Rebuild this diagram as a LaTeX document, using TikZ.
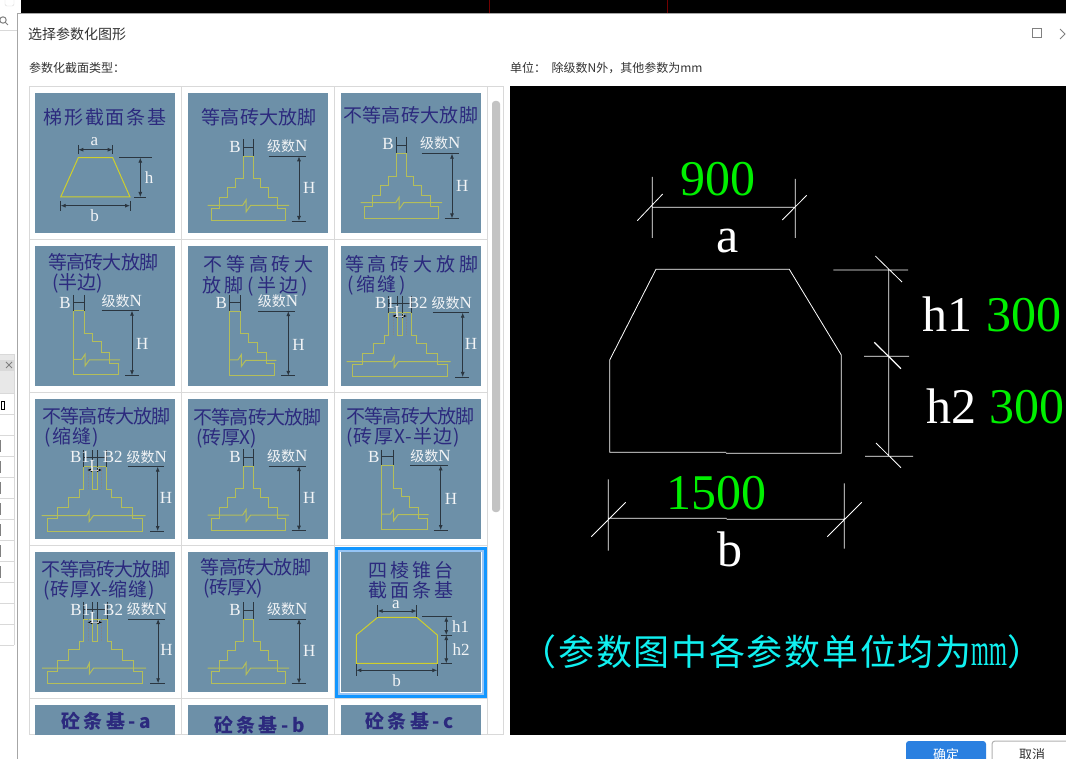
\documentclass[tikz,border=0pt]{standalone}
\usepackage{xcolor}
\usepackage{fontspec}
\usetikzlibrary{arrows.meta}
\setmainfont{Liberation Serif}
\newfontfamily\cjk{Noto Sans CJK SC}
\definecolor{tileblue}{HTML}{6D90A8}
\definecolor{titlenavy}{HTML}{2C2A7E}
\definecolor{stairyellow}{HTML}{B4BE5A}
\definecolor{brightyellow}{HTML}{CFCF2C}
\definecolor{dimgrey}{HTML}{2B3640}
\definecolor{labelwhite}{HTML}{F2F4F6}
\definecolor{gridgrey}{HTML}{D9D9D9}
\definecolor{selblue}{HTML}{1296FF}
\definecolor{sellight}{HTML}{95C4F5}
\definecolor{cadgreen}{HTML}{00F000}
\definecolor{cadcyan}{HTML}{10F0F0}
\definecolor{uitext}{HTML}{333333}
\definecolor{btnblue}{HTML}{2B80E0}
\begin{document}
\begin{tikzpicture}[x=1pt,y=-1pt]
	\tikzset{stairline/.style={draw=stairyellow,line width=1pt},
		dimline/.style={draw=dimgrey,line width=0.8pt},
		dimarrow/.style={dimline,{Latex[length=5pt,width=4pt]}-{Latex[length=5pt,width=4pt]}},
		cadline/.style={draw=white,line width=0.8pt},
		tilelabel/.style={text=labelwhite,font=\fontsize{17}{19}\selectfont,inner sep=0pt},
		tiletitle/.style={text=titlenavy,font=\cjk\fontsize{19}{21}\selectfont,inner sep=0pt},
		cadnum/.style={text=cadgreen,font=\fontsize{50}{52}\selectfont,inner sep=0pt,anchor=base},
		cadletter/.style={text=white,font=\fontsize{50}{52}\selectfont,inner sep=0pt,anchor=base},
		uilabel/.style={text=uitext,font=\cjk\fontsize{12}{14}\selectfont,inner sep=0pt,anchor=west}}
	\tikzset{stairfull/.pic={
		\draw[stairline] (23,116) -- (23,127.7) -- (97.7,127.7) -- (97.7,116) -- (89.7,116) -- (89.7,104.7) -- (80.7,104.7) -- (80.7,95) -- (72.7,95) -- (72.7,86) -- (65.3,86) -- (65.3,63.3) -- (55.3,63.3) -- (55.3,86) -- (47.7,86) -- (47.7,95) -- (39.3,95) -- (39.3,104.7) -- (31.3,104.7) -- (31.3,116) -- cycle;
		\draw[stairline] (19.7,112.3) -- (54.7,112.3) -- (58,107) -- (58,119) -- (62.7,112.3) -- (101,112.3);
		\draw[dimline] (55.3,46.3) -- (55.3,63) (65.3,46.3) -- (65.3,63) (55.3,54.7) -- (65.3,54.7);
		\draw[dimline] (80.7,63.3) -- (118,63.3) (103.7,128) -- (118,128);
		\draw[dimarrow] (111,63.3) -- (111,128);
		\node (-B) at (47,54) [tilelabel] {B};
		\node (-N) at (99.3,53) [tilelabel] {{\cjk\fontsize{14}{16}\selectfont 级数}N};
		\node (-H) at (121.3,95.3) [tilelabel] {H};
	}}
	\tikzset{stairhalf/.pic={
		\draw[stairline] (38,64.7) -- (49.3,64.7) -- (49.3,87.3) -- (57.3,87.3) -- (57.3,96) -- (66,96) -- (66,106.3) -- (74.7,106.3) -- (74.7,117.3) -- (83.3,117.3) -- (83.3,129) -- (38,129) -- cycle;
		\draw[stairline] (38,113.3) -- (46.7,113.3) -- (50,108.3) -- (50,120) -- (54.3,114) -- (85,114);
		\draw[dimline] (38,49) -- (38,64.7) (49.3,49) -- (49.3,64.7) (38,56) -- (49.3,56);
		\draw[dimline] (66.7,64.7) -- (104,64.7) (90,129.3) -- (104,129.3);
		\draw[dimarrow] (97,64.7) -- (97,129.3);
		\node (-B) at (30,56.7) [tilelabel] {B};
		\node (-N) at (86.7,55) [tilelabel] {{\cjk\fontsize{14}{16}\selectfont 级数}N};
		\node (-H) at (107.3,98.3) [tilelabel] {H};
	}}
	\tikzset{stairslit/.pic={
		\draw[stairline] (11.3,118.7) -- (11.3,131) -- (106.3,131) -- (106.3,118.7) -- (96.7,118.7) -- (96.7,107.7) -- (85.7,107.7) -- (85.7,97.3) -- (75,97.3) -- (75,89.3) -- (70.7,89.3) -- (70.7,66.7) -- (47.3,66.7) -- (47.3,89.3) -- (43.3,89.3) -- (43.3,97.3) -- (32.3,97.3) -- (32.3,107.7) -- (21.3,107.7) -- (21.3,118.7) -- cycle;
		\draw[stairline] (56.3,66.7) -- (56.3,89.3) -- (61.3,89.3) -- (61.3,66.7);
		\draw[stairline] (5.7,115.7) -- (50.7,115.7) -- (53,110.7) -- (53,121.7) -- (57.3,115.7) -- (109.7,115.7);
		\draw[draw=dimgrey!60,line width=0.5pt,densely dotted] (52,66.7) -- (52,89) (65,66.7) -- (65,89);
		\draw[dimline] (47.3,50) -- (47.3,66.7) (56.3,50) -- (56.3,66.7) (61.3,50) -- (61.3,66.7) (70.7,50) -- (70.7,66.7) (47.3,57) -- (70.7,57);
		\draw[dimline] (91.7,66.7) -- (128.3,66.7) (114,131) -- (128.3,131);
		\draw[dimarrow] (121.7,66.7) -- (121.7,131);
		\draw[dimarrow,draw=black] (51,70) -- (66,70);
		\node (-B1) at (44,57.3) [tilelabel] {B1};
		\node (-B2) at (76.7,57.3) [tilelabel] {B2};
		\node (-L) at (58.5,66) [tilelabel] {L};
		\node (-N) at (110.7,56.7) [tilelabel] {{\cjk\fontsize{14}{16}\selectfont 级数}N};
		\node (-H) at (130,97.7) [tilelabel] {H};
	}}
	\useasboundingbox (0,0) rectangle (1066,759);
	\fill[white] (0,0) rectangle (1066,759);
	% window behind the dialog
	\fill[black] (21,0) rectangle (1066,14);
	\draw[draw=red!45!black,line width=0.8pt] (489,0) -- (489,14) (667,0) -- (667,14);
	\draw[draw=gridgrey,rounded corners=2pt] (5,-4) rectangle (14,6);
	\draw[draw=gridgrey] (0,30) -- (17,30);
	\draw[draw=gray,line width=1pt] (3,20) circle (3.2) (5.5,22.5) -- (8,25);
	\fill[gridgrey!60] (0,354) rectangle (14,393);
	\fill[gridgrey] (0,360) rectangle (14,371);
	\draw[draw=gray,line width=0.8pt] (6,362) -- (12,368) (12,362) -- (6,368);
	\draw[draw=gridgrey] (14,354) -- (14,645) (0,354) -- (14,354);
	\foreach \ly in {393,414,...,645}
		\draw[draw=gridgrey] (0,\ly) -- (14,\ly);
	\foreach \ly in {440,461,...,566}
		\fill[gray] (0,\ly) rectangle (1,\ly+12);
	\draw[draw=black,line width=0.8pt] (1.5,401) rectangle (4.5,409);
	% dialog
	\draw[draw=gray!70,line width=1pt] (17,759) -- (17,14) -- (1066,14);
	\node (dlgtitle) at (28,34) [uilabel,font=\cjk\fontsize{14}{16}\selectfont] {选择参数化图形};
	\node (typelabel) at (29,68) [uilabel] {参数化截面类型：};
	\node (unitlabel) at (510,68) [uilabel] {单位：\ \ 除级数N外，其他参数为mm};
	\draw[draw=gray,line width=1pt] (1032.5,28.5) rectangle (1041.5,37.5);
	\draw[draw=gray,line width=1pt] (1060,29) -- (1065,34) -- (1060,39);
	% list of types
	\draw[draw=gridgrey,line width=1pt] (29.5,86.5) rectangle (503.5,734);
	\foreach \gx in {181.5,334,487}
		\draw[draw=gridgrey,line width=1pt] (\gx,87) -- (\gx,734);
	\foreach \gy in {239.5,392.5,545.5,698.5}
		\draw[draw=gridgrey,line width=1pt] (30,\gy) -- (487,\gy);
	\fill[gridgrey!90!black,rounded corners=3pt] (492,101) rectangle (500,512);
	\draw[draw=selblue,line width=3pt] (336.5,548) rectangle (485.5,696);
	\draw[draw=sellight,line width=2pt] (339,550.5) rectangle (483,693.5);
	\begin{scope}
		\clip (30,87) rectangle (487,734);
		\foreach \tx in {35,188,341}
			\foreach \ty in {93,246,399,552,705}
				\fill[tileblue] (\tx,\ty) rectangle (\tx+140,\ty+140);
		\foreach \tid/\tx/\ty/\ls/\txt in {
			a/105/117.7/9.5/梯形截面条基,
			b/259.3/117.7/1/等高砖大放脚,
			c/410.7/115.3/2/不等高砖大放脚,
			d/103.3/262.7/-4/等高砖大放脚,
			e/77.7/283.3/0/(半边),
			f/258.7/264.3/20/不等高砖大,
			g/255.3/286/18/放脚(半边),
			h/411.7/264.3/20/等高砖大放脚,
			i/376.7/285/12/(缩缝),
			j/106.7/416.7/-4/不等高砖大放脚,
			k/71.7/437.3/7/(缩缝),
			l/257.7/417.7/-4/不等高砖大放脚,
			m/226.7/438.3/-3/(砖厚X),
			n/410.7/416.7/-4/不等高砖大放脚,
			o/403.3/437.3/6/(砖厚X-半边),
			p/106/569/-4/不等高砖大放脚,
			q/99.3/590.7/4/(砖厚X-缩缝),
			r/256/567.3/-4/等高砖大放脚,
			s/233.3/588.3/-3/(砖厚X),
			t/411/570/16/四棱锥台,
			u/411/590/16/截面条基}
			\node (title\tid) at (\tx,\ty) [tiletitle] {\addfontfeature{LetterSpace=\ls}\txt};
		\foreach \tid/\tx/\ty/\txt in {v/106/721.7/砼条基-a,w/259.3/725/砼条基-b,x/409.3/721.7/砼条基-c}
			\node (title\tid) at (\tx,\ty) [tiletitle,font=\cjk\bfseries\fontsize{19}{21}\selectfont] {\addfontfeature{LetterSpace=18}\txt};
	\end{scope}
	% trapezoid tile
	\begin{scope}[shift={(35,93)}]
		\draw[stairline,draw=brightyellow] (43.3,64.7) -- (77.7,64.7) -- (95,104) -- (25.7,104) -- cycle;
		\draw[dimline] (43.3,52) -- (43.3,61) (77.7,52) -- (77.7,61) (84,64.3) -- (117,64.3) (99,104) -- (111,104) (25.7,108) -- (25.7,118) (95,108) -- (95,118);
		\draw[dimarrow] (43.3,56.7) -- (77.7,56.7);
		\draw[dimarrow] (105.3,64.7) -- (105.3,104);
		\draw[dimarrow] (25.7,112.7) -- (95,112.7);
		\node (ta) at (59.3,49) [tilelabel] {a};
		\node (th) at (114,85) [tilelabel] {h};
		\node (tb) at (59.7,123) [tilelabel] {b};
	\end{scope}
	\pic (sb) at (188,93) {stairfull};
	\pic (sc) at (341,90.4) {stairfull};
	\pic (sl) at (188,402.7) {stairfull};
	\pic (sr) at (188,555.7) {stairfull};
	\pic (hd) at (35,246) {stairhalf};
	\pic (hf) at (191.3,246.5) {stairhalf};
	\pic (hn) at (343.7,400.7) {stairhalf};
	\pic (lh) at (341,246) {stairslit};
	\pic (lj) at (36,400) {stairslit};
	\pic (lp) at (36.4,552.3) {stairslit};
	% selected tile
	\begin{scope}[shift={(341,552)}]
		\draw[stairline,draw=brightyellow] (36.7,65.3) -- (75.7,65.3) -- (96.3,83) -- (96.3,111.3) -- (15.3,111.3) -- (15.3,83) -- cycle;
		\draw[dimline] (36.7,53) -- (36.7,64.7) (75.7,53) -- (75.7,64.7) (81,64.7) -- (111,64.7) (100,83) -- (111,83) (100,111.3) -- (111,111.3) (15.3,112.3) -- (15.3,123.7) (96.3,112.3) -- (96.3,123.7);
		\draw[dimarrow] (36.7,59) -- (75.7,59);
		\draw[dimarrow] (105.3,64.7) -- (105.3,83);
		\draw[dimarrow] (105.3,83) -- (105.3,111.3);
		\draw[dimarrow] (15.3,118.3) -- (96.3,118.3);
		\node (sa) at (55,52.3) [tilelabel] {a};
		\node (shone) at (119.7,74.7) [tilelabel] {h1};
		\node (shtwo) at (120,97.3) [tilelabel] {h2};
		\node (sbb) at (55.7,128.7) [tilelabel] {b};
	\end{scope}
	% parameter drawing
	\fill[black] (510,86) rectangle (1066,735);
	\draw[cadline] (726,452.3) -- (609.7,452.3) -- (609.7,360) -- (656,269.3) -- (789.3,269.3) -- (841.3,355) -- (841.3,453.3) -- (726,453.3);
	\draw[cadline] (652.3,177) -- (652.3,238) (795.3,179) -- (795.3,238) (652.3,207.3) -- (795.3,207.3) (637.3,220.7) -- (662.7,194) (782.3,220) -- (806.7,195.3);
	\draw[cadline] (888.7,269) -- (888.7,456.3) (833.3,270) -- (908,270) (864,356.3) -- (909,356.3) (865,456.3) -- (913,456.3) (875.3,256) -- (902,282) (876,443) -- (901,467.7);
	\draw[cadline,line width=1.2pt] (874.3,342.3) -- (901,368.7);
	\draw[cadline] (608.3,479.3) -- (608.3,550.7) (844.3,483.3) -- (844.3,548.7) (608.3,518.3) -- (726.7,518.3) (726.7,519.3) -- (844.3,519.3) (591.3,536.7) -- (625.7,502.3) (827.3,536.7) -- (861.7,502.3);
	\node (nine) at (717.8,195.7) [cadnum] {900};
	\node (aname) at (728,253) [cadletter] {a};
	\node (fifteen) at (716.7,509.3) [cadnum] {1500};
	\node (bname) at (730,566.7) [cadletter] {b};
	\node (hone) at (947.5,331.7) [cadletter] {h1};
	\node (honeval) at (1024,331.7) [cadnum] {300};
	\node (htwo) at (951,423.3) [cadletter] {h2};
	\node (htwoval) at (1026.5,423.3) [cadnum] {300};
	\node (note) at (782,652) [inner sep=0pt,text=cadcyan,font=\cjk\fontsize{36}{38}\selectfont] {\addfontfeature{LetterSpace=4.7}（参数图中各参数单位均为{\fontspec{Liberation Serif}\fontsize{46}{48}\selectfont\scalebox{0.5}[1]{mm}}）};
	% buttons
	\fill[fill=btnblue,rounded corners=3pt] (906,741) rectangle (986,765);
	\node (okbtn) at (946,755) [inner sep=0pt,text=white,font=\cjk\fontsize{13}{15}\selectfont] {确定};
	\draw[draw=gray!60,line width=1pt,rounded corners=3pt] (992,741) rectangle (1075,765);
	\node (cancelbtn) at (1032,755) [inner sep=0pt,text=uitext,font=\cjk\fontsize{13}{15}\selectfont] {取消};
\end{tikzpicture}
\end{document}
